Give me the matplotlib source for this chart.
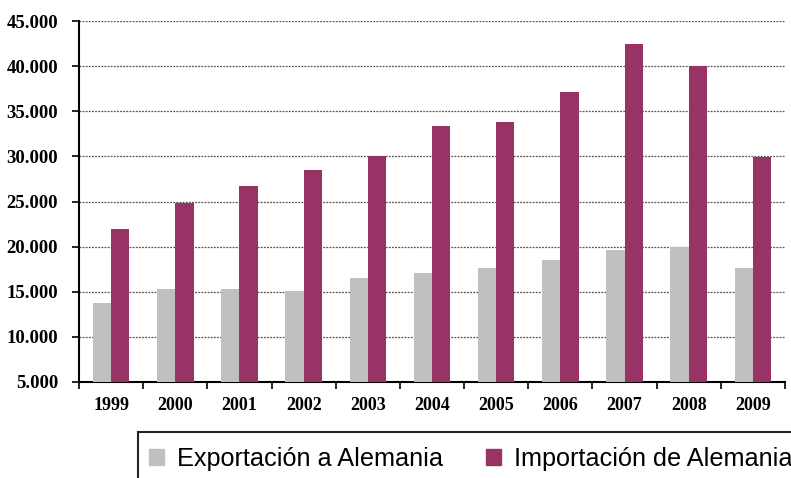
import numpy as np
import matplotlib
matplotlib.use('Agg')
import matplotlib.pyplot as plt
from matplotlib.patches import Rectangle, Patch

years = ['1999', '2000', '2001', '2002', '2003', '2004', '2005', '2006', '2007', '2008', '2009']
exportacion = [13750, 15300, 15300, 15100, 16500, 17100, 17600, 18500, 19600, 20000, 17600]
importacion = [22000, 24800, 26700, 28500, 30000, 33400, 33800, 37100, 42400, 40000, 29900]
yticks = [5000, 10000, 15000, 20000, 25000, 30000, 35000, 40000, 45000]
ylabels = ['5.000', '10.000', '15.000', '20.000', '25.000', '30.000', '35.000', '40.000', '45.000']

gray = '#c0c0c0'
plum = '#993366'
serif = ['Liberation Serif', 'DejaVu Serif']

fig = plt.figure(figsize=(7.91, 4.78), dpi=100)
ax = fig.add_axes([79 / 791, 1 - 382 / 478, 706 / 791, 361 / 478])

x = np.arange(len(years))
w = 0.285
ax.bar(x - w / 2, exportacion, width=w, color=gray, zorder=3)
ax.bar(x + w / 2, importacion, width=w, color=plum, zorder=3)

ax.set_ylim(5000, 45000)
ax.set_xlim(-0.5, len(years) - 0.5)
ax.set_yticks(yticks)
ax.set_yticklabels(ylabels, family=serif, fontweight='bold', fontsize=13.5)
ax.yaxis.grid(True, linestyle=(0, (1.5, 1)), color='#555555', linewidth=0.9, zorder=0)
ax.set_axisbelow(True)

ax.set_xticks(x)
ax.set_xticklabels(years, family=serif, fontweight='bold', fontsize=13)
ax.tick_params(axis='x', which='major', length=0, pad=11)
ax.set_xticks(np.arange(-0.5, len(years)), minor=True)
ax.tick_params(axis='x', which='minor', length=5, width=1.2, direction='out', color='black')
ax.tick_params(axis='y', length=5, width=1.2, color='black', pad=10)

for s in ['top', 'right']:
    ax.spines[s].set_visible(False)
for s in ['left', 'bottom']:
    ax.spines[s].set_linewidth(1.5)
    ax.spines[s].set_color('black')

# legend box running off the lower right corner
fig.patches.append(Rectangle((138 / 791, -0.1), 0.9, 1 - 432 / 478 + 0.1,
                             transform=fig.transFigure, fill=False,
                             edgecolor='#222222', linewidth=1.5))
handles = [Patch(color=gray, label='Exportación a Alemania'),
           Patch(color=plum, label='Importación de Alemania')]
fig.legend(handles=handles, loc='center left', bbox_to_anchor=(149 / 791, 1 - 459 / 478),
           ncol=2, frameon=False, prop={'family': ['Liberation Sans', 'DejaVu Sans'], 'size': 18.2},
           handlelength=0.6, handleheight=0.6, handletextpad=0.5, columnspacing=1.7,
           borderpad=0, borderaxespad=0)

fig.savefig('out.png', dpi=100)
